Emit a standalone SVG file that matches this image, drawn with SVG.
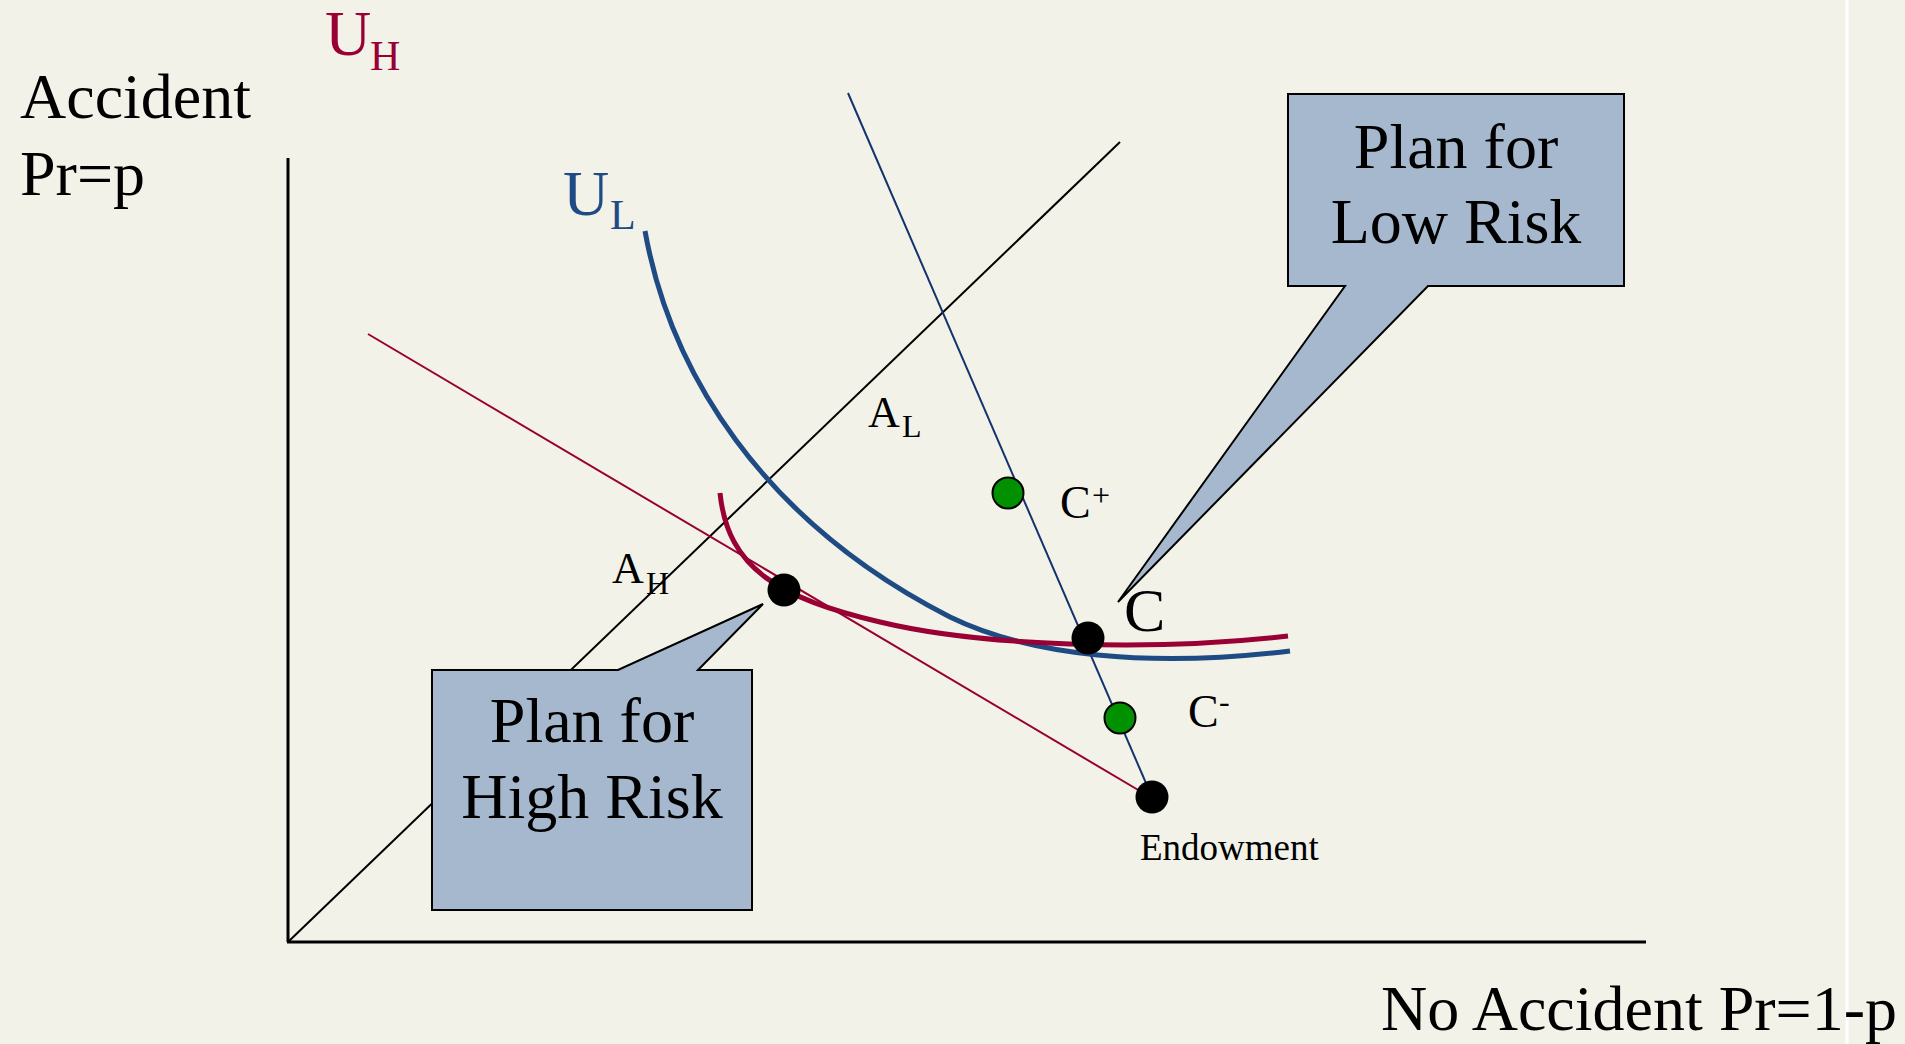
<svg xmlns="http://www.w3.org/2000/svg" width="1905" height="1044" viewBox="0 0 1905 1044">
<style>
text{font-family:"Liberation Serif","Times New Roman",serif;fill:#000}
.big{font-size:64px}
.axis{stroke:#000;stroke-width:3;fill:none}
.thin{stroke-width:2;fill:none}
.curve{stroke-width:5;fill:none}
.box{fill:#a6b8cd;stroke:#000;stroke-width:2}
.dot{fill:#000}
.gdot{fill:#009000;stroke:#000;stroke-width:2}
</style>
<rect x="0" y="0" width="1905" height="1044" fill="#f2f2e8"/>
<line x1="1847" y1="0" x2="1847" y2="1044" stroke="#ffffff" stroke-width="3"/>
<g id="connectors">
<line class="axis" x1="288" y1="158" x2="288" y2="942"/>
<line class="axis" x1="287" y1="942" x2="1646" y2="942"/>
<line class="thin" stroke="#000" x1="288" y1="942" x2="1120" y2="142"/>
<line class="thin" stroke="#990033" x1="368" y1="334" x2="1150" y2="797"/>
<line class="thin" stroke="#12336e" x1="848" y1="93" x2="1152" y2="797"/>
<path id="UL-curve" class="curve" stroke="#1f4b85" d="M645,231 C670,370 760,520 950,617 C1030,656 1150,668 1290,651"/>
<path id="UH-curve" class="curve" stroke="#990033" d="M720,493 C728,570 780,598 880,622 C980,646 1150,652 1288,636"/>
</g>
<g id="labels">
<text class="big" x="20" y="118">Accident</text>
<text class="big" x="20" y="195">Pr=p</text>
<text class="big" x="1381" y="1030">No Accident Pr=1-p</text>
<text class="big" x="325" y="55" style="fill:#990033">U</text>
<text x="370" y="70" font-size="42" style="fill:#990033">H</text>
<text class="big" x="563" y="215" style="fill:#1f4b85">U</text>
<text x="610" y="229" font-size="42" style="fill:#1f4b85">L</text>
<text x="868" y="427" font-size="44">A</text>
<text x="902" y="437" font-size="32">L</text>
<text x="612" y="583" font-size="44">A</text>
<text x="646" y="594" font-size="32">H</text>
</g>
<g id="low-risk-callout">
<path class="box" d="M1288,94 L1624,94 L1624,286 L1428,286 L1118,602 L1345,286 L1288,286 Z"/>
<text class="big" x="1456" y="168" text-anchor="middle">Plan for</text>
<text class="big" x="1456" y="243" text-anchor="middle">Low Risk</text>
</g>
<g id="high-risk-callout">
<path class="box" d="M432,670 L618,670 L763,604 L698,670 L752,670 L752,910 L432,910 Z"/>
<text class="big" x="592" y="742" text-anchor="middle">Plan for</text>
<text class="big" x="592" y="818" text-anchor="middle">High Risk</text>
</g>
<g id="node-AH-point"><circle class="dot" cx="784" cy="590" r="16.5"/></g>
<g id="node-C-plus">
<circle class="gdot" cx="1008" cy="493" r="15.5"/>
<text x="1060" y="518" font-size="46">C</text>
<text x="1092" y="506" font-size="32">+</text>
</g>
<g id="node-C">
<circle class="dot" cx="1088" cy="638" r="16.5"/>
<text x="1124" y="631" font-size="62">C</text>
</g>
<g id="node-C-minus">
<circle class="gdot" cx="1120" cy="718" r="15.5"/>
<text x="1188" y="727" font-size="46">C</text>
<text x="1219" y="712" font-size="32">-</text>
</g>
<g id="node-endowment">
<circle class="dot" cx="1152" cy="797" r="16.5"/>
<text x="1140" y="860" font-size="37">Endowment</text>
</g>
</svg>
